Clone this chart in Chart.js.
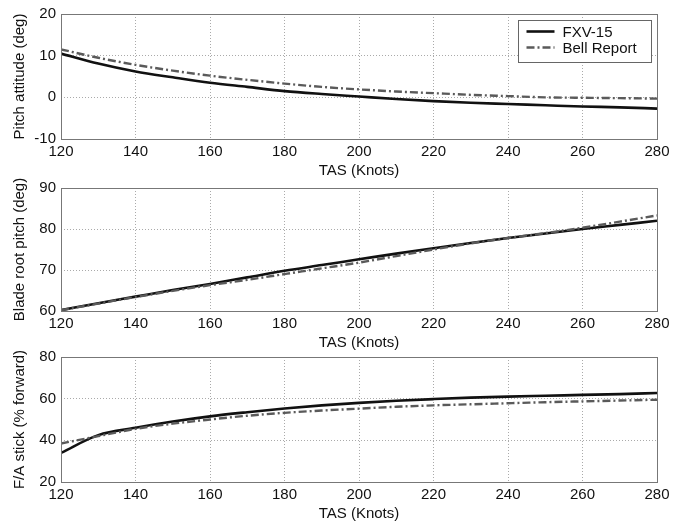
<!DOCTYPE html>
<html>
<head>
<meta charset="utf-8">
<script src="https://cdn.jsdelivr.net/npm/chart.js@4"></script>
<style>
  html, body { margin: 0; padding: 0; background: #fff; overflow: hidden; }
  #wrap { position: relative; width: 682px; height: 524px; }
  canvas { position: absolute; left: 0; }
</style>
</head>
<body>
<div id="wrap">
  <canvas id="pitchChart"></canvas>
  <canvas id="bladeChart"></canvas>
  <canvas id="stickChart"></canvas>
</div>
<script>
// airspeed (knots)
const tas = [120, 130, 140, 150, 160, 170, 180, 190, 200, 210, 220, 230, 240, 250, 260, 270, 280];

// pitch attitude (deg)
const pitchFxv = [10.5, 8.1, 6.2, 4.8, 3.5, 2.5, 1.5, 0.8, 0.2, -0.4, -0.9, -1.3, -1.6, -1.9, -2.2, -2.4, -2.7];
const pitchBell = [11.5, 9.5, 7.8, 6.4, 5.2, 4.2, 3.3, 2.5, 1.9, 1.4, 1.0, 0.6, 0.3, 0.0, -0.1, -0.2, -0.3];

// blade root pitch (deg)
const bladeFxv = [60.2, 61.9, 63.5, 65.1, 66.6, 68.2, 69.8, 71.2, 72.6, 74.0, 75.3, 76.6, 77.8, 78.9, 80.0, 81.0, 82.0];
const bladeBell = [60.2, 61.8, 63.4, 64.9, 66.3, 67.6, 69.0, 70.4, 71.8, 73.4, 75.0, 76.5, 77.8, 79.0, 80.3, 81.8, 83.3];

// F/A stick (% forward)
const stickFxv = [34.0, 42.5, 46.0, 49.0, 51.5, 53.5, 55.3, 56.8, 58.0, 59.0, 59.8, 60.5, 61.0, 61.4, 61.8, 62.2, 62.7];
const stickBell = [38.5, 42.0, 45.5, 48.0, 50.0, 51.8, 53.2, 54.3, 55.2, 56.1, 56.8, 57.3, 57.8, 58.3, 58.7, 59.1, 59.5];

const seriesNames = ["FXV-15", "Bell Report"];
const xTicks = [120, 140, 160, 180, 200, 220, 240, 260, 280];

const FONT = "'Liberation Sans', Arial, Helvetica, sans-serif";

const fxvStyle = { borderColor: "#111", borderWidth: 2.6, borderDash: [] };
const bellStyle = { borderColor: "#5a5a5a", borderWidth: 2.4, borderDash: [8, 3, 2, 3] };

// frame round the plot area
const framePlugin = {
  id: "frame",
  afterDraw(chart) {
    const a = chart.chartArea;
    const ctx = chart.ctx;
    ctx.save();
    ctx.strokeStyle = "#777";
    ctx.lineWidth = 1;
    ctx.strokeRect(Math.round(a.left) + 0.5, Math.round(a.top) + 0.5,
      Math.round(a.right - a.left), Math.round(a.bottom - a.top));
    ctx.restore();
  }
};

// boxed legend in the top right corner of the plot
const boxLegend = {
  id: "boxLegend",
  afterDraw(chart, args, opts) {
    if (!opts.show) return;
    const a = chart.chartArea;
    const ctx = chart.ctx;
    const w = 133, h = 42;
    const x = Math.round(a.right - 6 - w) + 0.5;
    const y = Math.round(a.top + 6) + 0.5;
    ctx.save();
    ctx.fillStyle = "#fff";
    ctx.fillRect(x, y, w, h);
    ctx.strokeStyle = "#666";
    ctx.lineWidth = 1;
    ctx.setLineDash([]);
    ctx.strokeRect(x, y, w, h);
    ctx.font = "15px " + FONT;
    ctx.textBaseline = "middle";
    seriesNames.forEach((name, i) => {
      const ds = chart.data.datasets.find(d => d.label === name);
      const ly = y + 11 + i * 16;
      ctx.strokeStyle = ds.borderColor;
      ctx.lineWidth = ds.borderWidth;
      ctx.setLineDash(ds.borderDash || []);
      ctx.beginPath();
      ctx.moveTo(x + 8, ly);
      ctx.lineTo(x + 36, ly);
      ctx.stroke();
      ctx.setLineDash([]);
      ctx.fillStyle = "#111";
      ctx.fillText(name, x + 44, ly + 1);
    });
    ctx.restore();
  }
};

function makeChart(id, top, plotTop, plotBottom, yMin, yMax, yStep, yTitle, fxv, bell, legend) {
  const canvas = document.getElementById(id);
  const axisH = 42;
  const height = plotBottom - top + axisH;
  canvas.width = 682;
  canvas.height = height;
  canvas.style.top = top + "px";
  canvas.style.width = "682px";
  canvas.style.height = height + "px";

  // Bell first so that the solid FXV-15 line is drawn over it
  new Chart(canvas.getContext("2d"), {
    type: "line",
    data: {
      datasets: [
        Object.assign({ label: seriesNames[1], data: tas.map((t, i) => ({ x: t, y: bell[i] })) }, bellStyle),
        Object.assign({ label: seriesNames[0], data: tas.map((t, i) => ({ x: t, y: fxv[i] })) }, fxvStyle)
      ]
    },
    options: {
      responsive: false,
      maintainAspectRatio: false,
      animation: false,
      layout: { padding: { top: plotTop - top, right: 25, left: 0, bottom: 0 } },
      elements: {
        point: { radius: 0 },
        line: { cubicInterpolationMode: "monotone", fill: false }
      },
      plugins: {
        legend: { display: false },
        tooltip: { enabled: false },
        boxLegend: { show: legend }
      },
      scales: {
        x: {
          type: "linear",
          min: 120,
          max: 280,
          afterBuildTicks: (s) => { s.ticks = xTicks.map(v => ({ value: v })); },
          afterFit: (s) => { s.height = axisH; },
          grid: { color: "#aaa", lineWidth: 1, drawTicks: false },
          border: { display: false, dash: [1, 2] },
          ticks: { padding: 4, color: "#111", font: { family: FONT, size: 15 }, maxRotation: 0 },
          title: { display: true, text: "TAS (Knots)", color: "#111", font: { family: FONT, size: 15 }, padding: { top: 0, bottom: 1 } }
        },
        y: {
          min: yMin,
          max: yMax,
          afterFit: (s) => { s.width = 61; },
          grid: { color: "#aaa", lineWidth: 1, drawTicks: false },
          border: { display: false, dash: [1, 2] },
          ticks: { stepSize: yStep, padding: 5, color: "#111", font: { family: FONT, size: 15 } },
          title: { display: true, text: yTitle, color: "#111", font: { family: FONT, size: 15 }, padding: { top: 11, bottom: 0 } }
        }
      }
    },
    plugins: [framePlugin, boxLegend]
  });
}

makeChart("pitchChart", 0, 11, 139, -10, 20, 10, "Pitch attitude (deg)", pitchFxv, pitchBell, true);
makeChart("bladeChart", 174, 184, 311, 60, 90, 10, "Blade root pitch (deg)", bladeFxv, bladeBell, false);
makeChart("stickChart", 343, 353, 482, 20, 80, 20, "F/A stick (% forward)", stickFxv, stickBell, false);
</script>
</body>
</html>
